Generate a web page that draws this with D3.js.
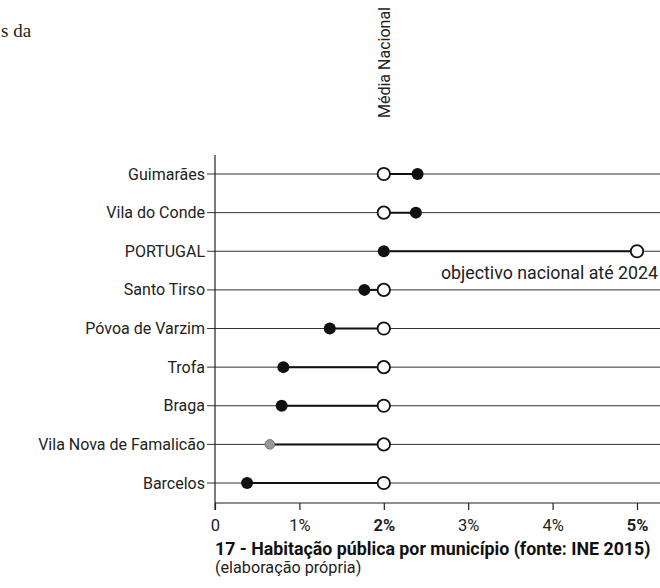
<!DOCTYPE html>
<html><head><meta charset="utf-8">
<script src="https://cdn.jsdelivr.net/npm/d3@7"></script>
<style>body{margin:0;background:#fff}svg{display:block}</style>
</head><body>
<svg id="c" width="660" height="588"></svg>
<script>
const categories = ["Guimarães","Vila do Conde","PORTUGAL","Santo Tirso","Póvoa de Varzim","Trofa","Braga","Vila Nova de Famalicão","Barcelos"];
const values = [2.4, 2.38, 2.0, 1.77, 1.36, 0.81, 0.79, 0.65, 0.38];
const reference = [2, 2, 5, 2, 2, 2, 2, 2, 2];
const tickValues = [0,1,2,3,4,5];
const tickLabels = ["0","1%","2%","3%","4%","5%"];
const boldTicks = ["2%","5%"];

const svg = d3.select("#c");
const font = "Roboto, 'Liberation Sans', sans-serif";
const x = d3.scaleLinear().domain([0,5]).range([215,637]);
const y = d3.scalePoint().domain(categories).range([174,483]);

// serif fragment
svg.append("text").attr("x",1).attr("y",37).attr("font-family","'Liberation Serif', serif")
  .attr("font-size",19).attr("fill","#222").text("s da");

// Média Nacional
svg.append("text").attr("transform",`translate(${x(2)+6},118) rotate(-90)`)
  .attr("font-family",font).attr("font-size",16).attr("fill","#222").text("Média Nacional");

// row lines
const rows = svg.append("g");
categories.forEach((c,i)=>{
  rows.append("line").attr("x1",207).attr("x2",660).attr("y1",y(c)).attr("y2",y(c))
    .attr("stroke","#333").attr("stroke-width",1);
  const a = Math.min(values[i],reference[i]), b = Math.max(values[i],reference[i]);
  rows.append("line").attr("x1",x(a)).attr("x2",x(b)).attr("y1",y(c)).attr("y2",y(c))
    .attr("stroke","#111").attr("stroke-width",2);
});

// left axis
svg.append("line").attr("x1",215).attr("x2",215).attr("y1",155).attr("y2",510)
  .attr("stroke","#222").attr("stroke-width",1.2);

// bottom axis
const xAxis = d3.axisBottom(x).tickValues(tickValues).tickFormat((d,i)=>tickLabels[i]).tickSize(7).tickPadding(9);
const gx = svg.append("g").attr("transform","translate(0,503)").call(xAxis);
gx.select(".domain").remove();
gx.append("line").attr("x1",215).attr("x2",660).attr("y1",0).attr("y2",0).attr("stroke","#222").attr("stroke-width",1.2);
gx.selectAll(".tick line").attr("stroke","#222").attr("stroke-width",1.2);
gx.selectAll(".tick text").attr("font-family",font).attr("font-size",16.5).attr("fill","#222")
  .attr("font-weight",d=>boldTicks.includes(tickLabels[d])?"bold":"normal");

// category labels
categories.forEach(c=>{
  svg.append("text").attr("x",205).attr("y",y(c)+5.5).attr("text-anchor","end")
    .attr("font-family", font)
    .attr("font-size", 16).attr("fill","#222").text(c);
});

// open reference circles
svg.selectAll(".ref").data(categories).join("circle")
  .attr("cx",(d,i)=>x(reference[i])).attr("cy",d=>y(d)).attr("r",6.2)
  .attr("fill","#fff").attr("stroke","#111").attr("stroke-width",1.8);

// value dots
svg.selectAll(".val").data(categories).join("circle")
  .attr("cx",(d,i)=>x(values[i])).attr("cy",d=>y(d)).attr("r",d=>d==="Vila Nova de Famalicão"?4.8:6)
  .attr("fill",d=>d==="Vila Nova de Famalicão"?"#999":"#111")
  .attr("stroke",d=>d==="Vila Nova de Famalicão"?"#777":"none");

// annotation
svg.append("text").attr("x",658).attr("y",y("PORTUGAL")+28).attr("text-anchor","end")
  .attr("font-family",font).attr("font-size",17.8).attr("fill","#222").text("objectivo nacional até 2024");

// caption
svg.append("text").attr("x",215).attr("y",555).attr("font-family",font).attr("font-size",17.8)
  .attr("font-weight","bold").attr("fill","#111").text("17 - Habitação pública por município (fonte: INE 2015)");
svg.append("text").attr("x",215).attr("y",573).attr("font-family",font).attr("font-size",16.2)
  .attr("fill","#222").text("(elaboração própria)");
</script>
</body></html>
